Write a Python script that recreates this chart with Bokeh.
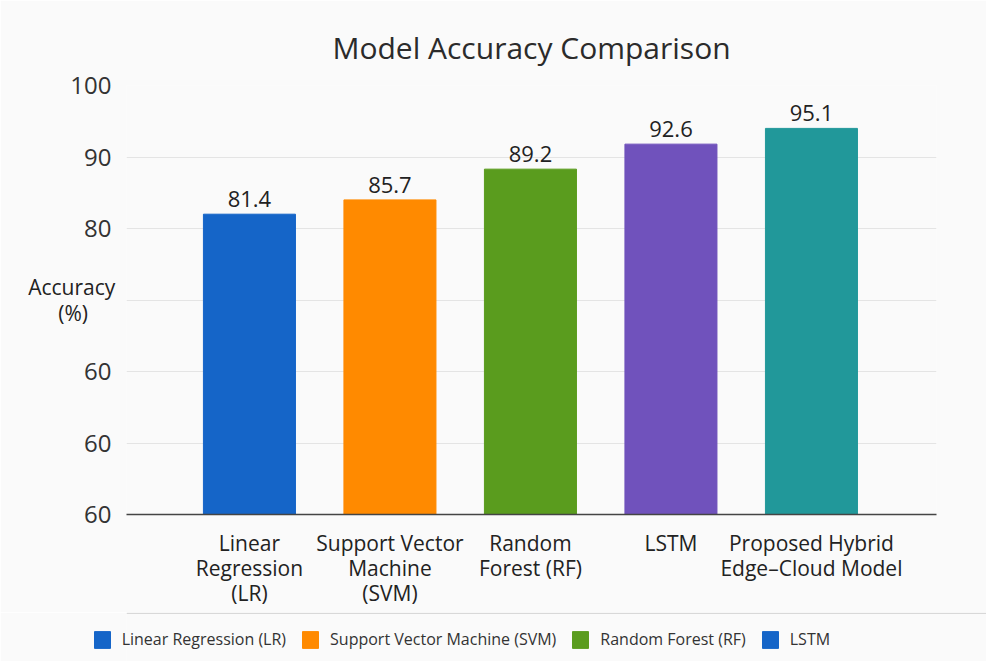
from bokeh.plotting import figure
from bokeh.layouts import column
from bokeh.models import (ColumnDataSource, FixedTicker, Legend, LegendItem, Range1d, Span)
from bokeh.core.properties import value
from bokeh.embed import file_html
from bokeh.resources import INLINE

# ---- data ----
models = ["Linear\nRegression\n(LR)", "Support Vector\nMachine\n(SVM)", "Random\nForest (RF)",
          "LSTM", "Proposed Hybrid\nEdge\u2013Cloud Model"]
bar_heights = [82.0, 84.0, 88.3, 91.8, 94.0]          # drawn heights
accuracy_labels = ["81.4", "85.7", "89.2", "92.6", "95.1"]  # printed values
bar_colors = ["#1565c8", "#ff8a00", "#5a9c1e", "#7052bc", "#21989a"]
y_ticks = [40, 50, 60, 70, 80, 90, 100]
y_tick_labels = ["60", "60", "60", "", "80", "90", "100"]
y_label = "Accuracy\n(%)" + "\u00a0" * 5
legend_names = ["Linear Regression (LR)", "Support Vector Machine (SVM)", "Random Forest (RF)", "LSTM"]
legend_colors = ["#1565c8", "#ff8a00", "#5a9c1e", "#1565c8"]

FONT = "Open Sans"
BG = "#fafafa"
xs = list(range(len(models)))

src = ColumnDataSource(dict(x=xs, top=bar_heights, color=bar_colors, lab=accuracy_labels))

p = figure(frame_width=810, frame_height=429, output_backend="svg", toolbar_location=None,
           x_range=Range1d(-0.875, 4.89), y_range=Range1d(40, 100),
           min_border_left=126, min_border_right=50, min_border_top=85, min_border_bottom=98)
p.background_fill_color = BG
p.border_fill_color = BG
p.outline_line_color = None

p.title.text = "Model Accuracy Comparison"
p.title.align = "center"
p.title.text_font = FONT
p.title.text_font_size = "30px"
p.title.text_font_style = "normal"
p.title.text_color = "#2b2b2b"
p.title.standoff = 36

p.vbar(x="x", top="top", bottom=40, width=0.655, color="color", source=src)
p.text(x="x", y="top", text="lab", source=src, text_align="center", text_baseline="bottom",
       y_offset=-7, text_font=value(FONT), text_font_size="22px", text_color="#222222")

# y axis
ya = p.yaxis[0]
ya.ticker = FixedTicker(ticks=y_ticks)
ya.major_label_overrides = {t: l for t, l in zip(y_ticks, y_tick_labels)}
ya.axis_line_color = None
ya.major_tick_line_color = None
ya.minor_tick_line_color = None
ya.major_tick_out = 0
ya.major_tick_in = 0
ya.minor_tick_out = 0
ya.major_label_text_font = FONT
ya.major_label_text_font_size = "24px"
ya.major_label_text_color = "#333333"
ya.major_label_standoff = 15
ya.axis_label = y_label
ya.axis_label_orientation = "horizontal"
ya.axis_label_text_font = FONT
ya.axis_label_text_font_size = "21px"
ya.axis_label_text_font_style = "normal"
ya.axis_label_text_color = "#222222"
ya.axis_label_text_line_height = 0.95
ya.axis_label_standoff = -48
p.ygrid.ticker = FixedTicker(ticks=y_ticks)
p.ygrid.grid_line_color = "#e4e4e4"
p.xgrid.grid_line_color = None

# x axis
xa = p.xaxis[0]
xa.ticker = FixedTicker(ticks=xs)
xa.major_label_overrides = {i: m for i, m in zip(xs, models)}
xa.axis_line_color = "#444444"
xa.axis_line_width = 1.5
xa.major_tick_line_color = None
xa.minor_tick_line_color = None
xa.major_tick_out = 0
xa.major_tick_in = 0
xa.minor_tick_out = 0
xa.major_label_text_font = FONT
xa.major_label_text_font_size = "21px"
xa.major_label_text_color = "#222222"
xa.major_label_text_line_height = 0.9
xa.major_label_standoff = 14

# ---- legend strip with separator line ----
p2 = figure(frame_width=906, frame_height=49, output_backend="svg", toolbar_location=None,
            x_range=Range1d(0, 1), y_range=Range1d(0, 1.02),
            min_border_left=50, min_border_right=30, min_border_top=0, min_border_bottom=0)
p2.background_fill_color = BG
p2.border_fill_color = BG
p2.outline_line_color = None
p2.axis.visible = False
p2.grid.visible = False
p2.add_layout(Span(location=1.0, dimension="width", line_color="#d8d8d8", line_width=1.2))

items = []
for name, col in zip(legend_names, legend_colors):
    dummy = ColumnDataSource(dict(x=[float("nan")], y=[float("nan")]))
    r = p2.rect(x="x", y="y", width=0.01, height=0.01, color=col, source=dummy)
    items.append(LegendItem(label=name, renderers=[r]))
leg = Legend(items=items, orientation="horizontal", location=(65, 11),
             label_text_font=FONT, label_text_font_size="16px", label_text_color="#333333",
             glyph_width=20, glyph_height=21, label_standoff=10, spacing=14,
             border_line_color=None, background_fill_alpha=0, padding=6, margin=0)
p2.add_layout(leg)

open("out.html", "w").write(file_html(column(p, p2, spacing=0), INLINE))
